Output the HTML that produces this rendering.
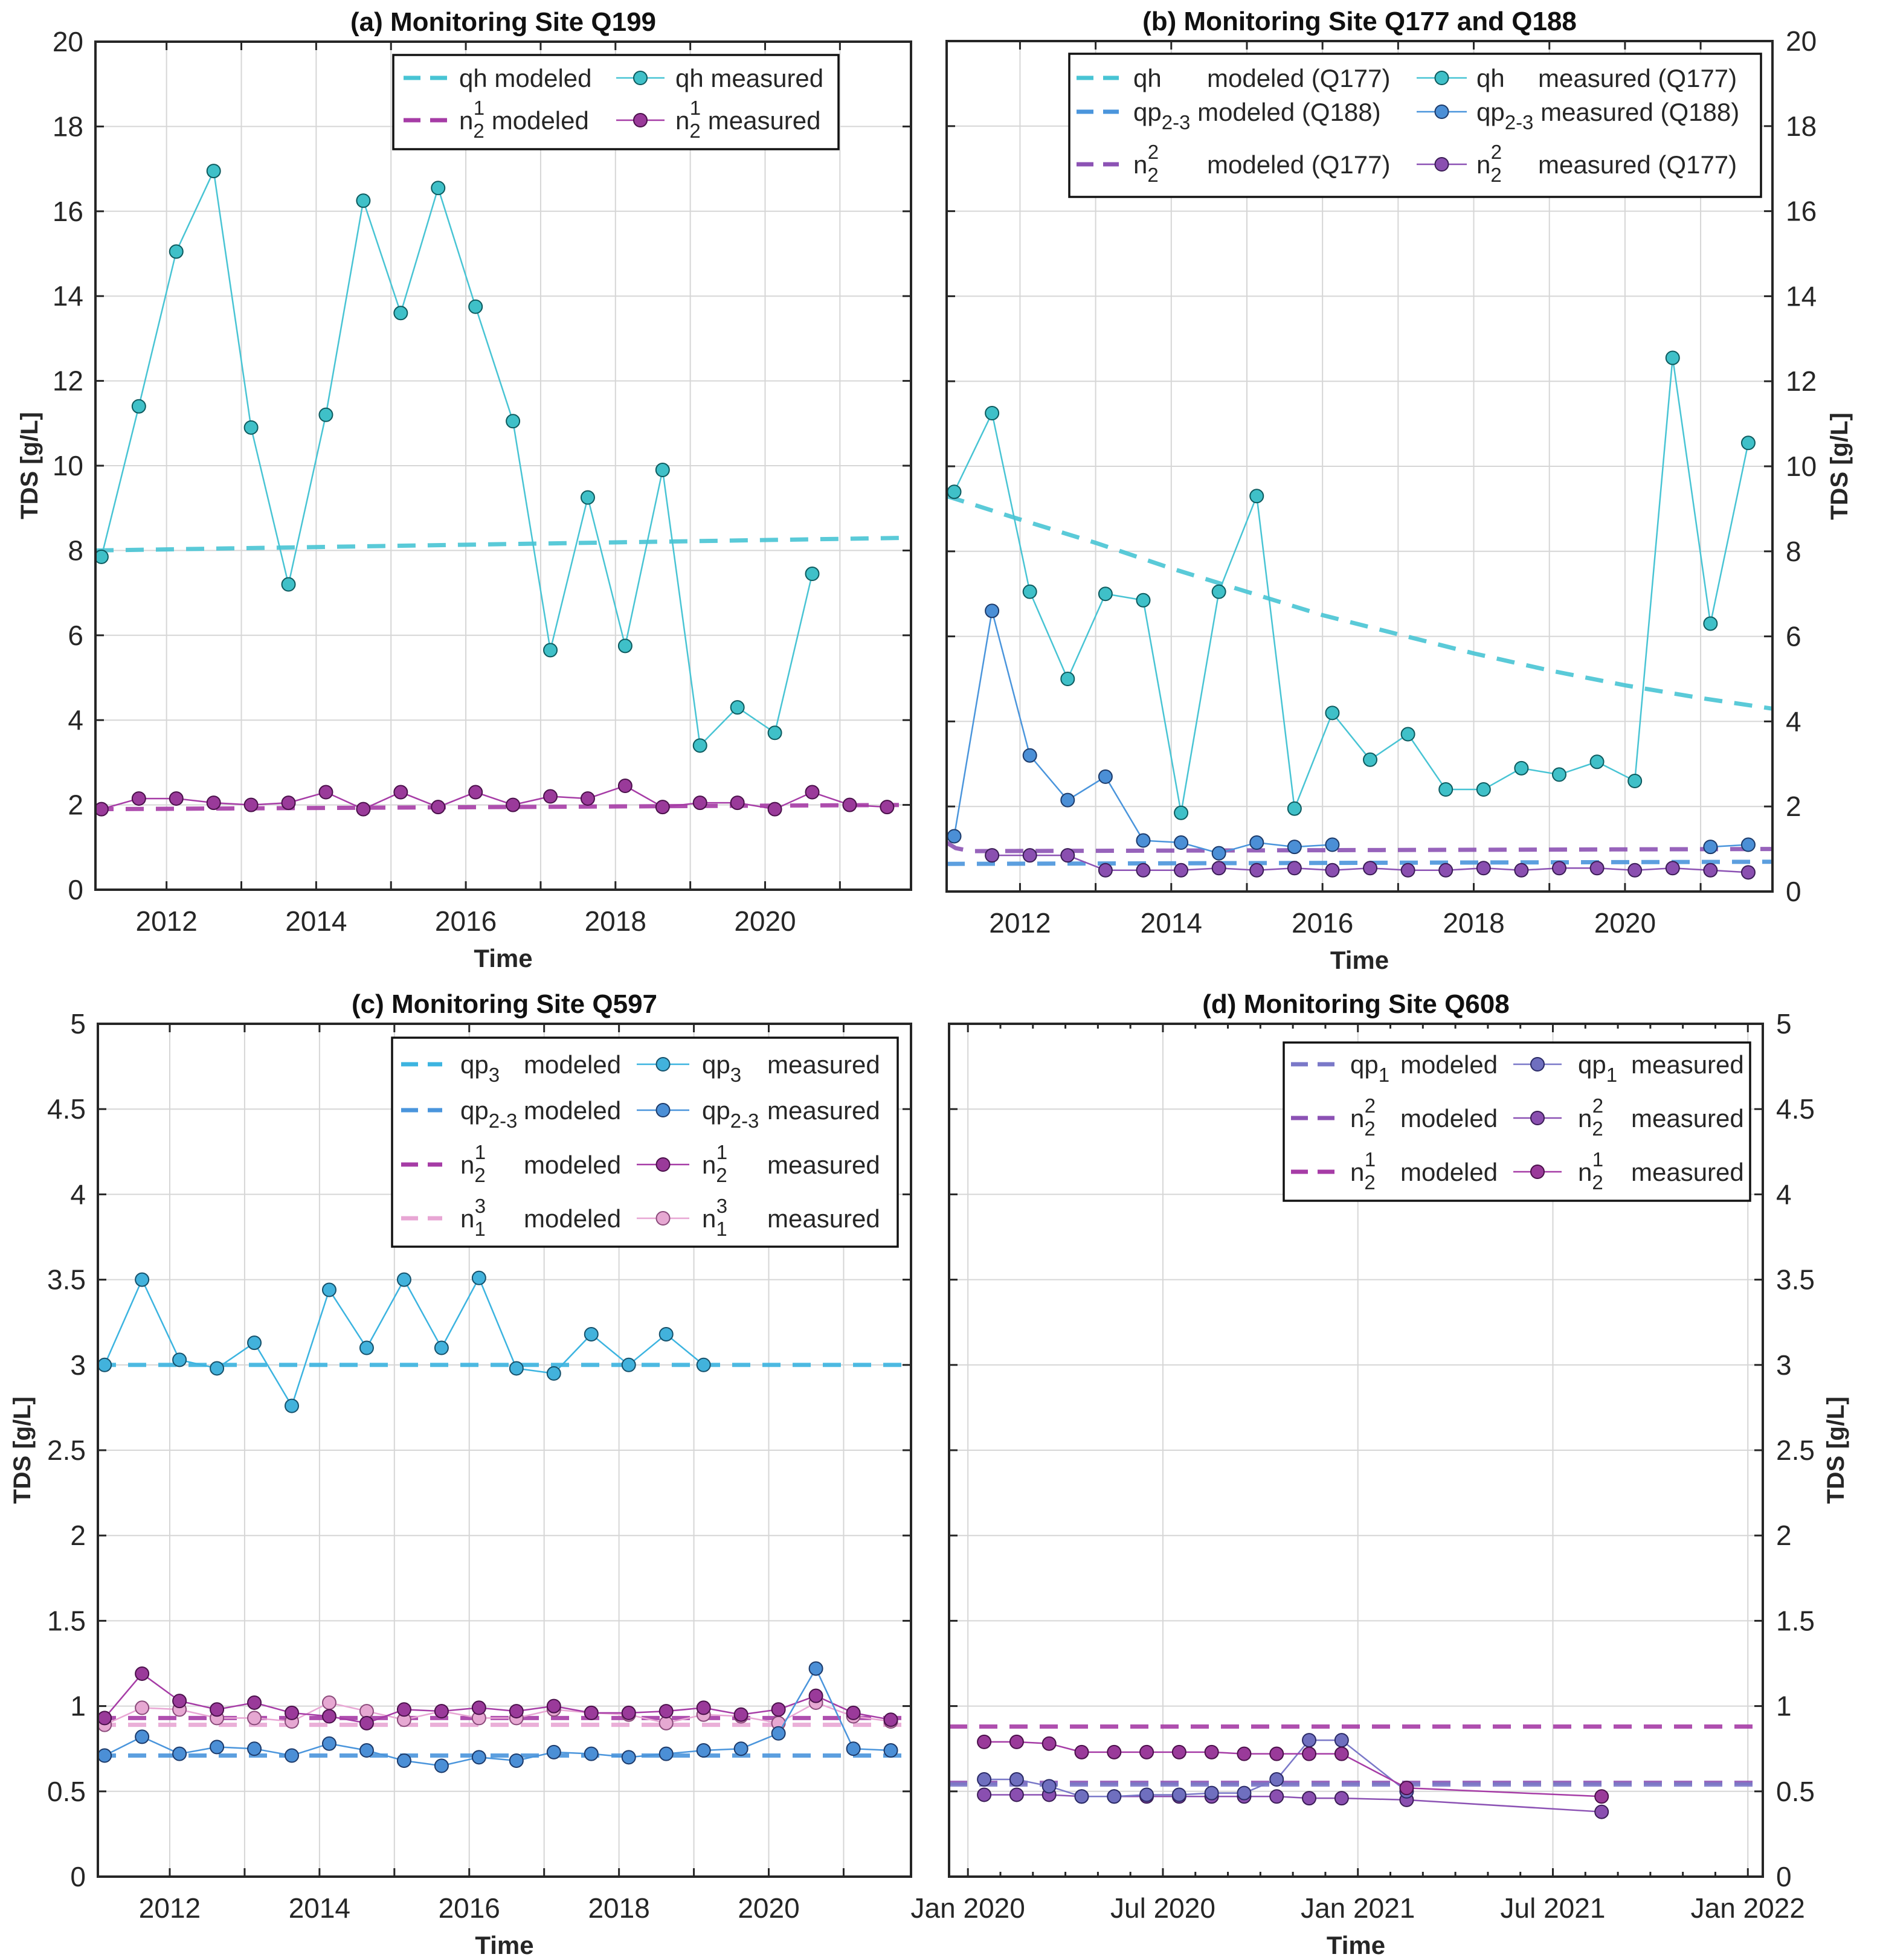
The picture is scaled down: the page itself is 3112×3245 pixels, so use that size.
<!DOCTYPE html>
<html><head><meta charset="utf-8">
<style>
html,body{margin:0;padding:0;background:#fff;}
svg{display:block;font-family:"Liberation Sans",Arial,sans-serif;}
</style></head>
<body>
<svg id="fig" width="3112" height="3245" viewBox="0 0 3112 3245" xmlns="http://www.w3.org/2000/svg"></svg>
<script>
// ---------- Panel (a) data ----------
const tA = [2011.13,2011.63,2012.13,2012.63,2013.13,2013.63,2014.13,2014.63,2015.13,2015.63,2016.13,2016.63,2017.13,2017.63,2018.13,2018.63,2019.13,2019.63,2020.13,2020.63,2021.13,2021.63];
const qhA = [7.85,11.4,15.05,16.95,10.9,7.2,11.2,16.25,13.6,16.55,13.75,11.05,5.65,9.25,5.75,9.9,3.4,4.3,3.7,7.45];
const n21A = [1.9,2.15,2.15,2.05,2.0,2.05,2.3,1.9,2.3,1.95,2.3,2.0,2.2,2.15,2.45,1.95,2.05,2.05,1.9,2.3,2.0,1.95];
const qhModA_t = [2011.05,2021.95];
const qhModA = [8.0,8.3];
const n21ModA = [1.9,2.0];
// ---------- Panel (b) data ----------
const tB = [2011.13,2011.63,2012.13,2012.63,2013.13,2013.63,2014.13,2014.63,2015.13,2015.63,2016.13,2016.63,2017.13,2017.63,2018.13,2018.63,2019.13,2019.63,2020.13,2020.63,2021.13,2021.63];
const qhB = [9.4,11.25,7.05,5.0,7.0,6.85,1.85,7.05,9.3,1.95,4.2,3.1,3.7,2.4,2.4,2.9,2.75,3.05,2.6,12.55,6.3,10.55];
const qp23B_t = [2011.13,2011.63,2012.13,2012.63,2013.13,2013.63,2014.13,2014.63,2015.13,2015.63,2016.13];
const qp23B = [1.3,6.6,3.2,2.15,2.7,1.2,1.15,0.9,1.15,1.05,1.1];
const qp23B2_t = [2021.13,2021.63];
const qp23B2 = [1.05,1.1];
const n22B_t = [2011.63,2012.13,2012.63,2013.13,2013.63,2014.13,2014.63,2015.13,2015.63,2016.13,2016.63,2017.13,2017.63,2018.13,2018.63,2019.13,2019.63,2020.13,2020.63,2021.13,2021.63];
const n22B = [0.85,0.85,0.85,0.5,0.5,0.5,0.55,0.5,0.55,0.5,0.55,0.5,0.5,0.55,0.5,0.55,0.55,0.5,0.55,0.5,0.45];
const qhModB_t = [2011.03,2012,2013,2014,2015,2016,2017,2018,2019,2020,2021,2021.95];
const qhModB = [9.3,8.75,8.2,7.6,7.05,6.5,6.05,5.6,5.2,4.85,4.55,4.3];
const qp23ModB_t = [2011.03,2021.95];
const qp23ModB = [0.65,0.7];
const n22ModB_t = [2011.03,2011.15,2011.35,2021.95];
const n22ModB = [1.15,1.02,0.95,1.0];
// ---------- Panel (c) data ----------
const tC = [2011.13,2011.63,2012.13,2012.63,2013.13,2013.63,2014.13,2014.63,2015.13,2015.63,2016.13,2016.63,2017.13,2017.63,2018.13,2018.63,2019.13,2019.63,2020.13,2020.63,2021.13,2021.63];
const qp3C = [3.0,3.5,3.03,2.98,3.13,2.76,3.44,3.1,3.5,3.1,3.51,2.98,2.95,3.18,3.0,3.18,3.0];
const qp23C = [0.71,0.82,0.72,0.76,0.75,0.71,0.78,0.74,0.68,0.65,0.7,0.68,0.73,0.72,0.7,0.72,0.74,0.75,0.84,1.22,0.75,0.74];
const n21C = [0.93,1.19,1.03,0.98,1.02,0.96,0.94,0.9,0.98,0.97,0.99,0.97,1.0,0.96,0.96,0.97,0.99,0.95,0.98,1.06,0.96,0.92];
const n13C = [0.89,0.99,0.98,0.93,0.93,0.91,1.02,0.97,0.92,0.97,0.93,0.93,0.98,0.96,0.95,0.9,0.95,0.94,0.9,1.02,0.94,0.91];
const modC_t = [2011.04,2021.95];
const qp3ModC = [3.0,3.0];
const qp23ModC = [0.71,0.71];
const n21ModC = [0.93,0.93];
const n13ModC = [0.89,0.89];
// ---------- Panel (d) data (months since Jan 2020) ----------
const mD = [0.5,1.5,2.5,3.5,4.5,5.5,6.5,7.5,8.5,9.5,10.5,11.5,13.5,19.5];
const n21D = [0.79,0.79,0.78,0.73,0.73,0.73,0.73,0.73,0.72,0.72,0.72,0.72,0.52,0.47];
const qp1D = [0.57,0.57,0.53,0.47,0.47,0.48,0.48,0.49,0.49,0.57,0.8,0.8,0.5];
const n22D = [0.48,0.48,0.48,0.47,0.47,0.47,0.47,0.47,0.47,0.47,0.46,0.46,0.45,0.38];
const modD_t = [-0.58,24.46];
const n21ModD = [0.88,0.88];
const n22ModD = [0.55,0.55];
const qp1ModD = [0.54,0.54];
// ---------- tick labels ----------
const yTicksAB = [0,2,4,6,8,10,12,14,16,18,20];
const yTicksCD = [0,0.5,1,1.5,2,2.5,3,3.5,4,4.5,5];
const xTickYears = [2012,2014,2016,2018,2020];
const xGridYears = [2012,2013,2014,2015,2016,2017,2018,2019,2020,2021];
const xTicksD = [0,6,12,18,24];
const xTickLabelsD = ["Jan 2020","Jul 2020","Jan 2021","Jul 2021","Jan 2022"];

const NS = "http://www.w3.org/2000/svg";
const fig = document.getElementById('fig');
function mk(tag, attrs, parent){
  const e = document.createElementNS(NS, tag);
  for (const k in attrs) e.setAttribute(k, attrs[k]);
  (parent||fig).appendChild(e);
  return e;
}

const C = {
  qh:'#48c4d4', qhM:'#3fc0c8', qhE:'#0d5a5e',
  qp23:'#4a95dc', qp23M:'#4b8fd6', qp23E:'#1c3a6a',
  qp3:'#3cb4e0', qp3M:'#42b2dc', qp3E:'#15506a',
  n21:'#a63ca6', n21M:'#9a3a9a', n21E:'#4a104a',
  n22:'#8c52b4', n22M:'#8a4fb0', n22E:'#3a1c55',
  n13:'#e8a6d4', n13M:'#e6a8d2', n13E:'#8a4a7a',
  qp1:'#7a78c8', qp1M:'#6f6fbf', qp1E:'#2a2a66'
};

function makeAxes(p){
  const g = mk('g', {});
  
  
  p.g = g;
  p.sx = v => p.L + (v - p.dmin) / (p.dmax - p.dmin) * (p.R - p.L);
  p.sy = v => p.B - (v - p.ymin) / (p.ymax - p.ymin) * (p.B - p.T);
  p.xgrid.forEach(v => {
    const l = mk('line', {x1:p.sx(v), x2:p.sx(v), y1:p.T, y2:p.B, stroke:'#d6d6d6', 'stroke-width':2}, g);
    
    
  });
  p.yticks.forEach(v => {
    const l = mk('line', {x1:p.L, x2:p.R, y1:p.sy(v), y2:p.sy(v), stroke:'#d6d6d6', 'stroke-width':2}, g);
    
    
  });
  p.yticks.forEach(v => {
    const y = p.sy(v);
    const tk1 = mk('line', {x1:p.L, x2:p.L+14, y1:y, y2:y, stroke:'#262626', 'stroke-width':3}, g);
    
    
    const tk2 = mk('line', {x1:p.R, x2:p.R-14, y1:y, y2:y, stroke:'#262626', 'stroke-width':3}, g);
    
    
    const t = mk('text', {x: p.side==='left' ? p.L-20 : p.R+22, y: y+16, 'font-size':46, fill:'#262626', 'text-anchor': p.side==='left'?'end':'start'}, g);
    t.textContent = String(v);
    
    
  });
  p.xticks.forEach(v => {
    const x = p.sx(v);
    const tk = mk('line', {x1:x, x2:x, y1:p.B, y2:p.B-14, stroke:'#262626', 'stroke-width':3}, g);
    
    
    const tk2 = mk('line', {x1:x, x2:x, y1:p.T, y2:p.T+14, stroke:'#262626', 'stroke-width':3}, g);
    
    
  });
  (p.minor||[]).forEach(v => {
    const x = p.sx(v);
    const tk = mk('line', {x1:x, x2:x, y1:p.B, y2:p.B-8, stroke:'#262626', 'stroke-width':3}, g);
    
    
    const tk2 = mk('line', {x1:x, x2:x, y1:p.T, y2:p.T+8, stroke:'#262626', 'stroke-width':3}, g);
    
    
  });
  p.xlabels.forEach((s,i) => {
    const t = mk('text', {x:p.sx(p.xlabelVals[i]), y:p.B+68, 'font-size':46, fill:'#262626', 'text-anchor':'middle'}, g);
    t.textContent = s;
    
    
  });
  const ti = mk('text', {x:(p.L+p.R)/2, y:p.T-18, 'font-size':44, 'font-weight':'bold', fill:'#111', 'text-anchor':'middle'}, g);
  ti.textContent = p.title;
  
  
  const xl = mk('text', {x:(p.L+p.R)/2, y:p.B+128, 'font-size':42, 'font-weight':'bold', fill:'#262626', 'text-anchor':'middle'}, g);
  xl.textContent = 'Time';
  
  
  const yc = (p.T+p.B)/2;
  const yx = p.ylabX;
  const yl = mk('text', {x:yx, y:yc, 'font-size':40, 'font-weight':'bold', fill:'#262626', 'text-anchor':'middle', transform:`rotate(-90 ${yx} ${yc})`}, g);
  yl.textContent = 'TDS [g/L]';
  
  
  const cid = 'clip-' + p.name;
  const cp = mk('clipPath', {id:cid}, g);
  mk('rect', {x:p.L, y:p.T, width:p.R-p.L, height:p.B-p.T}, cp);
  p.plot = mk('g', {'clip-path':`url(#${cid})`}, g);
  
  
  return p;
}
function finishAxes(p){
  const r = mk('rect', {x:p.L, y:p.T, width:p.R-p.L, height:p.B-p.T, fill:'none', stroke:'#262626', 'stroke-width':4}, p.g);
  
  
}
function modeled(p, ts, vs, color, name){
  const pts = ts.map((t,i)=>p.sx(t)+','+p.sy(vs[i])).join(' ');
  const l = mk('polyline', {points:pts, fill:'none', stroke:color, 'stroke-width':7, 'stroke-dasharray':'30 20', opacity:0.9}, p.plot);
  
  
}
function measured(p, ts, vs, color, fillc, edge, name){
  const n = vs.length;
  const pts = vs.map((v,i)=>p.sx(ts[i])+','+p.sy(v)).join(' ');
  const l = mk('polyline', {points:pts, fill:'none', stroke:color, 'stroke-width':2.5}, p.plot);
  
  
  for (let i=0;i<n;i++){
    const c = mk('circle', {cx:p.sx(ts[i]), cy:p.sy(vs[i]), r:11, fill:fillc, stroke:edge, 'stroke-width':2}, p.plot);
    
    
  }
}

function legendBox(x1,y1,x2,y2,name){
  const r = mk('rect', {x:x1,y:y1,width:x2-x1,height:y2-y1,fill:'#fff',stroke:'#111','stroke-width':3.5});
  
  
}
function legText(x,y,base,sub,sup,rest,restX){
  const t = mk('text', {x:x, y:y+15, 'font-size':42, fill:'#262626'});
  
  
  const b = mk('tspan', {}, t); b.textContent = base;
  if (sub) { const s = mk('tspan', {'font-size':33, dy:14}, t); s.textContent = sub; }
  if (sup) { const s = mk('tspan', {'font-size':33, dx:-18, dy:-38}, t); s.textContent = sup; }
  const r = mk('tspan', {}, t);
  if (restX) { r.setAttribute('x', restX); r.setAttribute('y', y+15); }
  else if (sub||sup) { r.setAttribute('dy', sup?24:-14); }
  r.textContent = rest;
}
function legDash(x1,x2,y,color){
  const l = mk('line', {x1:x1,x2:x2,y1:y,y2:y,stroke:color,'stroke-width':7,'stroke-dasharray':'28 16'});
  
  
}
function legMarker(x1,x2,y,color,fillc,edge){
  const l = mk('line', {x1:x1,x2:x2,y1:y,y2:y,stroke:color,'stroke-width':2.5});
  
  
  const c = mk('circle', {cx:(x1+x2)/2, cy:y, r:11, fill:fillc, stroke:edge, 'stroke-width':2});
  
  
}

// ---------- Panel (a) ----------
const pA = makeAxes({name:'panel-a', L:158, R:1508, T:69, B:1473, dmin:2011.05, dmax:2021.95, ymin:0, ymax:20,
  yticks:yTicksAB, xticks:xGridYears, xgrid:xGridYears, xlabels:xTickYears.map(String), xlabelVals:xTickYears,
  side:'left', ylabX:62, title:'(a) Monitoring Site Q199'});
modeled(pA, qhModA_t, qhModA, C.qh, 'qh-modeled-line');
modeled(pA, qhModA_t, n21ModA, C.n21, 'n21-modeled-line');
measured(pA, tA, n21A, C.n21, C.n21M, C.n21E, 'n21-measured');
measured(pA, tA, qhA, C.qh, C.qhM, C.qhE, 'qh-measured');
finishAxes(pA);

// ---------- Panel (b) ----------
const pB = makeAxes({name:'panel-b', L:1567, R:2934, T:68, B:1476, dmin:2011.03, dmax:2021.95, ymin:0, ymax:20,
  yticks:yTicksAB, xticks:xGridYears, xgrid:xGridYears, xlabels:xTickYears.map(String), xlabelVals:xTickYears,
  side:'right', ylabX:3058, title:'(b) Monitoring Site Q177 and Q188'});
modeled(pB, qhModB_t, qhModB, C.qh, 'qh-modeled-line');
modeled(pB, qp23ModB_t, qp23ModB, C.qp23, 'qp23-modeled-line');
modeled(pB, n22ModB_t, n22ModB, C.n22, 'n22-modeled-line');
measured(pB, n22B_t, n22B, C.n22, C.n22M, C.n22E, 'n22-measured');
measured(pB, qp23B_t, qp23B, C.qp23, C.qp23M, C.qp23E, 'qp23-measured');
measured(pB, qp23B2_t, qp23B2, C.qp23, C.qp23M, C.qp23E, 'qp23-measured-late');
measured(pB, tB, qhB, C.qh, C.qhM, C.qhE, 'qh-measured');
finishAxes(pB);

// ---------- Panel (c) ----------
const pC = makeAxes({name:'panel-c', L:162, R:1508, T:1695, B:3107, dmin:2011.04, dmax:2021.9, ymin:0, ymax:5,
  yticks:yTicksCD, xticks:xGridYears, xgrid:xGridYears, xlabels:xTickYears.map(String), xlabelVals:xTickYears,
  side:'left', ylabX:50, title:'(c) Monitoring Site Q597'});
modeled(pC, modC_t, qp3ModC, C.qp3, 'qp3-modeled-line');
modeled(pC, modC_t, qp23ModC, C.qp23, 'qp23-modeled-line');
modeled(pC, modC_t, n13ModC, C.n13, 'n13-modeled-line');
modeled(pC, modC_t, n21ModC, C.n21, 'n21-modeled-line');
measured(pC, tC, n13C, C.n13, C.n13M, C.n13E, 'n13-measured');
measured(pC, tC, n21C, C.n21, C.n21M, C.n21E, 'n21-measured');
measured(pC, tC, qp23C, C.qp23, C.qp23M, C.qp23E, 'qp23-measured');
measured(pC, tC, qp3C, C.qp3, C.qp3M, C.qp3E, 'qp3-measured');
finishAxes(pC);

// ---------- Panel (d) ----------
const minorD = [];
for (let m=1;m<24;m++){ if (m%6) minorD.push(m); }
const pD = makeAxes({name:'panel-d', L:1571, R:2918, T:1695, B:3107, dmin:-0.58, dmax:24.46, ymin:0, ymax:5,
  yticks:yTicksCD, xticks:xTicksD, xgrid:xTicksD, minor:minorD, xlabels:xTickLabelsD, xlabelVals:xTicksD,
  side:'right', ylabX:3052, title:'(d) Monitoring Site Q608'});
modeled(pD, modD_t, n21ModD, C.n21, 'n21-modeled-line');
modeled(pD, modD_t, n22ModD, C.n22, 'n22-modeled-line');
modeled(pD, modD_t, qp1ModD, C.qp1, 'qp1-modeled-line');
measured(pD, mD, n22D, C.n22, C.n22M, C.n22E, 'n22-measured');
measured(pD, mD, qp1D, C.qp1, C.qp1M, C.qp1E, 'qp1-measured');
measured(pD, mD, n21D, C.n21, C.n21M, C.n21E, 'n21-measured');
finishAxes(pD);

// ---------- Legends ----------
legendBox(651,91,1388,247,'legend-a');
legDash(668,740,129,C.qh); legText(760,129,'qh','','',' modeled');
legMarker(1020,1100,129,C.qh,C.qhM,C.qhE); legText(1118,129,'qh','','',' measured');
legDash(668,740,199,C.n21); legText(760,199,'n','2','1','  modeled');
legMarker(1020,1100,199,C.n21,C.n21M,C.n21E); legText(1118,199,'n','2','1','  measured');

legendBox(1770,89,2915,326,'legend-b');
legDash(1782,1852,129,C.qh); legText(1876,129,'qh','','','modeled (Q177)',1998);
legMarker(2345,2428,129,C.qh,C.qhM,C.qhE); legText(2444,129,'qh','','','measured (Q177)',2546);
legDash(1782,1852,185,C.qp23); legText(1876,185,'qp','2-3','',' modeled (Q188)');
legMarker(2345,2428,185,C.qp23,C.qp23M,C.qp23E); legText(2444,185,'qp','2-3','',' measured (Q188)');
legDash(1782,1852,272,C.n22); legText(1876,272,'n','2','2','modeled (Q177)',1998);
legMarker(2345,2428,272,C.n22,C.n22M,C.n22E); legText(2444,272,'n','2','2','measured  (Q177)',2546);

legendBox(649,1718,1486,2064,'legend-c');
legDash(664,732,1762,C.qp3); legText(762,1762,'qp','3','','modeled',867);
legMarker(1054,1141,1762,C.qp3,C.qp3M,C.qp3E); legText(1162,1762,'qp','3','','measured',1270);
legDash(664,732,1838,C.qp23); legText(762,1838,'qp','2-3','','modeled',867);
legMarker(1054,1141,1838,C.qp23,C.qp23M,C.qp23E); legText(1162,1838,'qp','2-3','','measured',1270);
legDash(664,732,1928,C.n21); legText(762,1928,'n','2','1','modeled',867);
legMarker(1054,1141,1928,C.n21,C.n21M,C.n21E); legText(1162,1928,'n','2','1','measured',1270);
legDash(664,732,2017,C.n13); legText(762,2017,'n','1','3','modeled',867);
legMarker(1054,1141,2017,C.n13,C.n13M,C.n13E); legText(1162,2017,'n','1','3','measured',1270);

legendBox(2125,1726,2897,1988,'legend-d');
legDash(2137,2210,1762,C.qp1); legText(2235,1762,'qp','1','','modeled',2318);
legMarker(2505,2585,1762,C.qp1,C.qp1M,C.qp1E); legText(2612,1762,'qp','1','','measured',2700);
legDash(2137,2210,1851,C.n22); legText(2235,1851,'n','2','2','modeled',2318);
legMarker(2505,2585,1851,C.n22,C.n22M,C.n22E); legText(2612,1851,'n','2','2','measured',2700);
legDash(2137,2210,1940,C.n21); legText(2235,1940,'n','2','1','modeled',2318);
legMarker(2505,2585,1940,C.n21,C.n21M,C.n21E); legText(2612,1940,'n','2','1','measured',2700);
</script>
</body></html>
